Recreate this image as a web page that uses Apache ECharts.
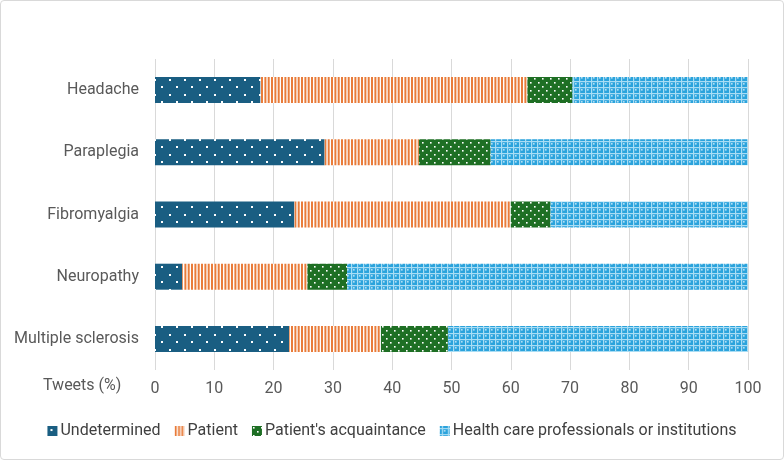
<!DOCTYPE html>
<html>
<head>
<meta charset="utf-8">
<script src="https://cdn.jsdelivr.net/npm/echarts@6/dist/echarts.min.js"></script>
<style>
html,body{margin:0;padding:0;background:#fff;}
#c{width:784px;height:460px;box-sizing:border-box;border:1px solid #D9D9D9;border-radius:4px;}
</style>
</head>
<body>
<div id="c"></div>
<script>
const categories = ['Multiple sclerosis', 'Neuropathy', 'Fibromyalgia', 'Paraplegia', 'Headache'];
const undetermined = [22.6, 4.6, 23.5, 28.6, 17.8];
const patient = [15.5, 21.1, 36.5, 15.9, 45.0];
const acquaintance = [11.3, 6.7, 6.7, 12.1, 7.6];
const healthCare = [50.6, 67.6, 33.3, 43.4, 29.6];
const seriesNames = ['Undetermined', 'Patient', "Patient's acquaintance", 'Health care professionals or institutions'];
const xTicks = [0, 10, 20, 30, 40, 50, 60, 70, 80, 90, 100];

function makeTile(w, h, draw) {
  const cv = document.createElement('canvas');
  cv.width = w; cv.height = h;
  draw(cv.getContext('2d'));
  return { image: cv, repeat: 'repeat' };
}
const patUndet = makeTile(15, 15, g => {
  g.fillStyle = '#1A5E82'; g.fillRect(0, 0, 15, 15);
  g.fillStyle = '#ffffff';
  g.fillRect(3, 3, 2, 2); g.fillRect(10, 10, 2, 2);
});
const patPatient = makeTile(10, 10, g => {
  g.fillStyle = '#ffffff'; g.fillRect(0, 0, 10, 10);
  g.fillStyle = '#E97C3A';
  g.fillRect(0, 0, 2, 10); g.fillRect(3.4, 0, 2, 10); g.fillRect(6.7, 0, 2, 10);
});
const patAcq = makeTile(8, 8, g => {
  g.fillStyle = '#1E6F24'; g.fillRect(0, 0, 8, 8);
  g.fillStyle = '#ffffff';
  g.fillRect(1, 1, 1.6, 1.6); g.fillRect(5, 5, 1.6, 1.6);
});
const patHC = makeTile(6, 6, g => {
  g.fillStyle = '#2BA3DC'; g.fillRect(0, 0, 6, 6);
  g.fillStyle = '#A9DDF4';
  g.fillRect(0, 2, 6, 1.2); g.fillRect(2, 0, 1.2, 6);
  g.fillStyle = '#ffffff';
  g.fillRect(4.2, 4.2, 1.3, 1.3);
});

const values = [undetermined, patient, acquaintance, healthCare];
const patterns = [patUndet, patPatient, patAcq, patHC];

const chart = echarts.init(document.getElementById('c'));
chart.setOption({
  animation: false,
  textStyle: { fontFamily: 'Roboto' },
  grid: { left: 154, right: 35, top: 58, bottom: 89, containLabel: false },
  legend: {
    bottom: 15, left: 'center',
    itemWidth: 10, itemHeight: 10, itemGap: 14,
    icon: 'rect',
    textStyle: { fontSize: 16, color: '#404040', padding: [0, 0, 0, -2] },
    data: seriesNames
  },
  xAxis: {
    type: 'value', min: 0, max: 100, interval: 10,
    axisLine: { show: false }, axisTick: { show: false },
    splitLine: { lineStyle: { color: '#D9D9D9', width: 1 } },
    axisLabel: { fontSize: 16, color: '#595959', margin: 11,
      formatter: v => xTicks.includes(v) ? String(v) : '' }
  },
  yAxis: {
    type: 'category', data: categories,
    axisLine: { show: false }, axisTick: { show: false },
    axisLabel: { fontSize: 16, color: '#595959', margin: 16 }
  },
  graphic: [{
    type: 'text', left: 42, top: 377,
    style: { text: 'Tweets (%)', fontSize: 16, fill: '#595959', fontFamily: 'Roboto' }
  }],
  series: seriesNames.map((name, i) => ({
    name, type: 'bar', stack: 'total', barWidth: 26,
    data: values[i],
    itemStyle: { color: patterns[i] }
  }))
});
</script>
</body>
</html>
